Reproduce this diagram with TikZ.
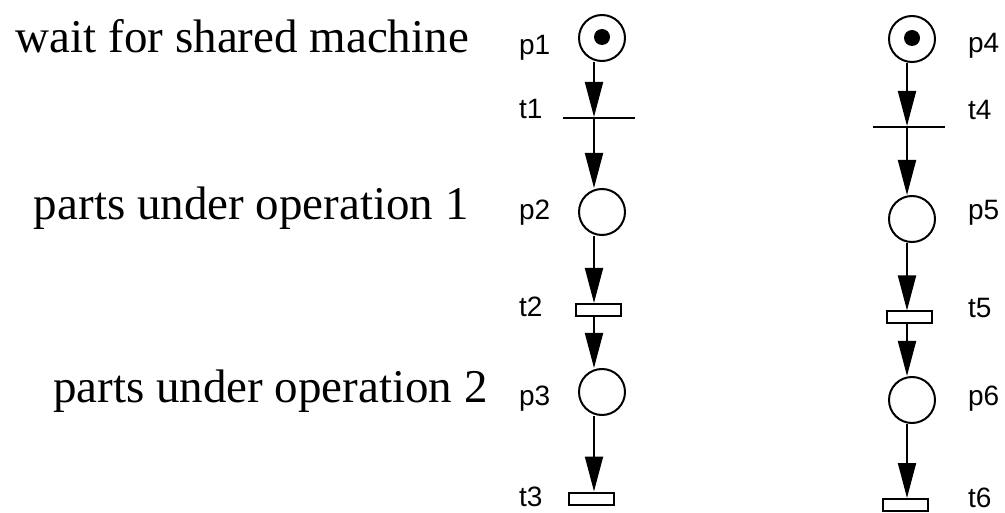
\documentclass[tikz,border=0pt]{standalone}
\usepackage{fontspec}
\setmainfont{Liberation Serif}
\newfontfamily\etiqfont{Liberation Sans}
\usetikzlibrary{arrows.meta}
\begin{document}
\begin{tikzpicture}[x=1pt,y=-1pt,line width=2pt]
            \tikzstyle{place}=[circle,draw,minimum size=46pt,inner sep=0pt]
            \tikzstyle{jeton}=[circle,fill,minimum size=16pt,inner sep=0pt]
            \tikzstyle{barre}=[rectangle,fill,minimum width=72pt,minimum height=2pt,inner sep=0pt,outer sep=0pt]
            \tikzstyle{trans}=[rectangle,draw,minimum width=45pt,minimum height=12pt,inner sep=0pt]
            \tikzstyle{etiq}=[anchor=base west,inner sep=0pt,font=\etiqfont\fontsize{28}{30}\selectfont]
            \tikzstyle{texte}=[anchor=base west,inner sep=0pt,font=\fontsize{47}{52}\selectfont]
            \tikzstyle{arc}=[-{Triangle[length=35pt,width=18pt]}]
            \useasboundingbox (0,0) rectangle (1005,513);
            % colonne de gauche
            \coordinate (ga) at (594,0);
            \node[place] (p1) at (602,38) {};
            \node[jeton] (j1) at (602,37) {};
            \node[barre] (t1) at (599,118) {};
            \node[place] (p2) at (602,212) {};
            \node[trans] (t2) at (598.5,310) {};
            \node[place] (p3) at (602,392) {};
            \node[trans] (t3) at (591.5,498.5) {};
            % colonne de droite
            \coordinate (dr) at (907,0);
            \node[place] (p4) at (912,39) {};
            \node[jeton] (j4) at (912,38) {};
            \node[barre] (t4) at (909,127) {};
            \node[place] (p5) at (912,219) {};
            \node[trans] (t5) at (909.5,317.5) {};
            \node[place] (p6) at (912,400) {};
            \node[trans] (t6) at (905,505) {};
            % etiquettes
            \node[etiq] (lp1) at (518,55) {p1};
            \node[etiq] (lt1) at (518,119) {t1};
            \node[etiq] (lp2) at (518,220) {p2};
            \node[etiq] (lt2) at (518,317) {t2};
            \node[etiq] (lp3) at (518,405) {p3};
            \node[etiq] (lt3) at (518,506) {t3};
            \node[etiq] (lp4) at (967,53) {p4};
            \node[etiq] (lt4) at (967,120) {t4};
            \node[etiq] (lp5) at (967,220) {p5};
            \node[etiq] (lt5) at (967,318) {t5};
            \node[etiq] (lp6) at (967,405) {p6};
            \node[etiq] (lt6) at (967,507) {t6};
            \node[texte] (s1) at (15,53) {wait for shared machine};
            \node[texte] (s2) at (33,220) {parts under operation 1};
            \node[texte] (s3) at (52,402) {parts under operation 2};
            % arcs
            \draw[arc] (p1.south -| ga) -- (t1.north -| ga);
            \draw[arc] (t1.south -| ga) -- (p2.north -| ga);
            \draw[arc] (p2.south -| ga) -- (t2.north -| ga);
            \draw[arc] (t2.south -| ga) -- (p3.north -| ga);
            \draw[arc] (p3.south -| ga) -- (t3.north -| ga);
            \draw[arc] (p4.south -| dr) -- (t4.north -| dr);
            \draw[arc] (t4.south -| dr) -- (p5.north -| dr);
            \draw[arc] (p5.south -| dr) -- (t5.north -| dr);
            \draw[arc] (t5.south -| dr) -- (p6.north -| dr);
            \draw[arc] (p6.south -| dr) -- (t6.north -| dr);
        \end{tikzpicture}
\end{document}
